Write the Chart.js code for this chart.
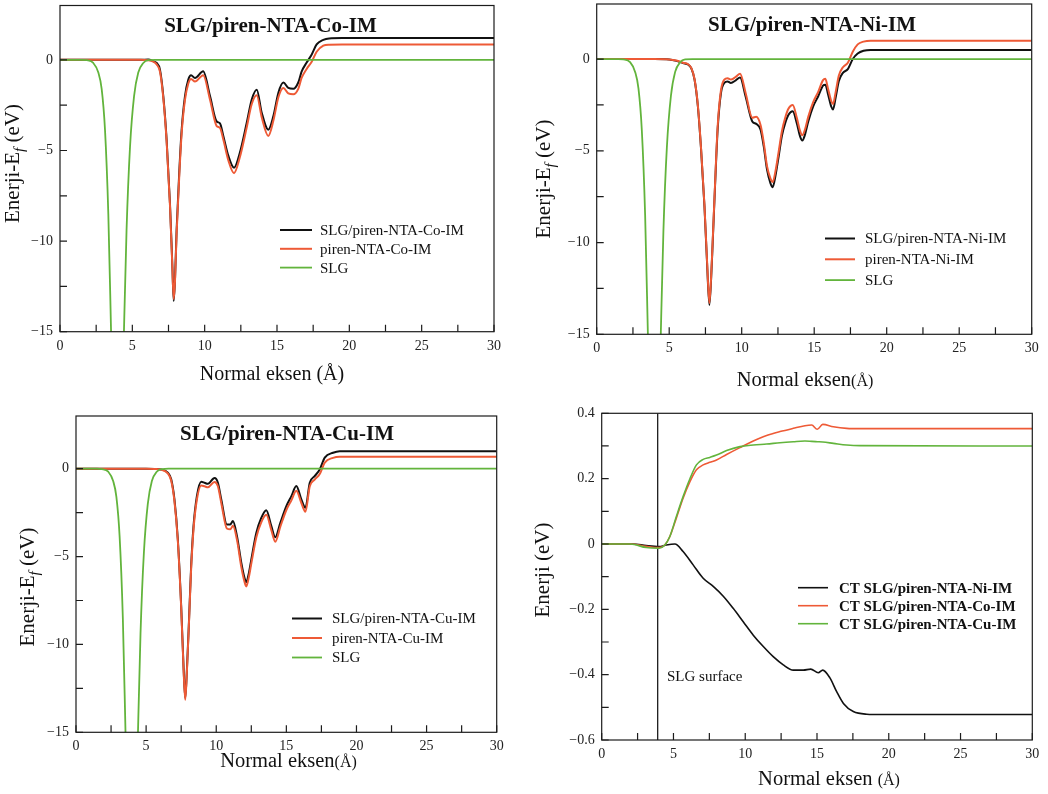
<!DOCTYPE html>
<html>
<head>
<meta charset="utf-8">
<script src="https://cdn.jsdelivr.net/npm/chart.js@4.4.1/dist/chart.umd.min.js"></script>
<style>
  html, body { margin: 0; padding: 0; background: #fff; width: 1048px; height: 794px; overflow: hidden; }
  canvas { position: absolute; left: 0; top: 0; }
</style>
</head>
<body>
<canvas id="panelCo" width="1048" height="794"></canvas>
<canvas id="panelNi" width="1048" height="794"></canvas>
<canvas id="panelCu" width="1048" height="794"></canvas>
<canvas id="panelCT" width="1048" height="794"></canvas>
<script>
// ---- Planar-averaged potential of bare graphene (SLG), shared by the three potential panels
const slgX = [0, 1.5, 1.84, 2.3, 2.65, 2.88, 3.11, 3.34, 3.53, 3.7, 3.85, 3.97, 4.1, 4.25, 4.42, 4.6, 4.84, 5.12, 5.41, 5.76, 6.1, 6.6, 30];
const slgV = [0, 0, -0.02, -0.17, -0.7, -1.6, -3.85, -8.5, -15, -21, -25, -26, -25, -21, -15, -9.4, -4.8, -2.0, -0.7, -0.17, -0.02, 0, 0];

// ---- Co complex
const coX = [0, 2, 4, 5, 5.6, 6.1, 6.45, 6.68, 6.91, 7.14, 7.37, 7.6, 7.76, 7.86, 7.95, 8.06, 8.25, 8.41, 8.64, 8.87, 9.06, 9.33, 9.9, 10.37, 10.83, 11.06, 11.29, 11.64, 12.03, 12.44, 12.9, 13.25, 13.6, 13.94, 14.4, 14.75, 15.1, 15.44, 15.78, 16.13, 16.47, 16.7, 17.05, 17.4, 17.74, 18.2, 18.6, 19.5, 30];
const coHybrid = [0, 0, 0, 0, 0, 0.02, -0.08, -0.17, -0.54, -2.0, -4.4, -7.9, -11.2, -13.3, -12.1, -9.4, -6.1, -3.85, -2.0, -1.09, -0.85, -1.0, -0.63, -2.0, -3.4, -3.5, -4.2, -5.3, -5.95, -5.1, -3.5, -2.2, -1.65, -2.9, -3.85, -3.1, -1.8, -1.25, -1.55, -1.6, -1.25, -0.65, -0.15, 0.3, 0.85, 1.1, 1.18, 1.2, 1.2];
const coPiren = [0, 0, 0, 0, 0, -0.02, -0.1, -0.25, -0.65, -2.1, -4.5, -8.0, -11.3, -13.2, -12.2, -9.6, -6.3, -4.05, -2.2, -1.3, -1.05, -1.2, -0.85, -2.2, -3.65, -3.75, -4.4, -5.55, -6.25, -5.35, -3.75, -2.45, -1.95, -3.15, -4.2, -3.35, -2.05, -1.55, -1.85, -1.9, -1.6, -1.0, -0.5, -0.1, 0.45, 0.78, 0.84, 0.85, 0.85];

// ---- Ni complex
const niX = [0, 2, 4, 5, 5.5, 5.95, 6.3, 6.52, 6.75, 6.98, 7.2, 7.43, 7.61, 7.77, 7.89, 8.0, 8.16, 8.34, 8.57, 8.8, 9.02, 9.25, 9.59, 9.89, 10.27, 10.73, 11.0, 11.3, 11.52, 11.75, 11.98, 12.14, 12.32, 12.55, 12.77, 13.0, 13.23, 13.52, 13.8, 14.02, 14.18, 14.36, 14.59, 14.93, 15.27, 15.61, 15.77, 15.95, 16.18, 16.3, 16.48, 16.7, 16.98, 17.32, 17.66, 18.0, 18.4, 18.9, 30];
const niHybrid = [0, 0, 0, -0.02, -0.1, -0.22, -0.3, -0.5, -1.13, -2.6, -4.95, -8.0, -11.1, -13.4, -12.0, -10.0, -6.95, -3.85, -1.85, -1.3, -1.22, -1.3, -1.16, -1.0, -2.04, -3.4, -3.53, -3.85, -4.76, -6.04, -6.76, -6.98, -6.4, -5.3, -4.2, -3.5, -3.04, -2.85, -3.5, -4.2, -4.44, -4.13, -3.4, -2.58, -2.04, -1.45, -1.4, -1.9, -2.6, -2.75, -2.1, -1.2, -0.75, -0.55, 0.0, 0.3, 0.45, 0.5, 0.5];
const niPiren = [0, 0, 0, -0.02, -0.08, -0.2, -0.28, -0.48, -1.1, -2.55, -4.9, -7.95, -11.0, -13.3, -11.9, -9.9, -6.85, -3.7, -1.7, -1.12, -1.05, -1.12, -0.97, -0.8, -1.85, -3.2, -3.15, -3.6, -4.55, -5.85, -6.5, -6.7, -6.15, -5.05, -3.95, -3.2, -2.7, -2.5, -3.2, -3.9, -4.15, -3.85, -3.15, -2.35, -1.8, -1.15, -1.08, -1.6, -2.3, -2.45, -1.8, -0.9, -0.45, -0.2, 0.4, 0.8, 0.95, 1.0, 1.0];

// ---- Cu complex
const cuX = [0, 2, 4, 5, 5.6, 6.07, 6.55, 6.79, 7.02, 7.26, 7.5, 7.67, 7.79, 7.9, 8.05, 8.21, 8.38, 8.62, 8.93, 9.17, 9.4, 9.88, 10.12, 10.36, 10.76, 11.0, 11.19, 11.48, 11.79, 12.02, 12.14, 12.33, 12.5, 12.86, 13.21, 13.57, 13.93, 14.21, 14.57, 15.0, 15.36, 15.71, 16.07, 16.36, 16.67, 17.02, 17.38, 17.74, 18.33, 18.8, 30];
const cuHybrid = [0, 0, 0, 0, -0.01, -0.04, -0.23, -0.6, -1.75, -4.0, -7.8, -11.3, -13.05, -11.6, -8.8, -5.55, -3.27, -1.56, -0.74, -0.8, -0.86, -0.53, -0.8, -1.75, -3.17, -3.17, -2.98, -3.84, -5.36, -6.22, -6.46, -5.93, -5.17, -3.65, -2.8, -2.36, -3.27, -3.9, -3.08, -2.13, -1.56, -0.99, -1.75, -2.22, -0.8, -0.42, -0.04, 0.63, 0.91, 1.0, 1.0];
const cuPiren = [0, 0, 0, 0, -0.01, -0.05, -0.27, -0.68, -1.85, -4.1, -7.9, -11.4, -13.15, -11.7, -8.9, -5.7, -3.45, -1.75, -0.95, -1.0, -1.06, -0.75, -1.0, -1.95, -3.4, -3.45, -3.25, -4.05, -5.6, -6.45, -6.7, -6.15, -5.4, -3.9, -3.05, -2.62, -3.5, -4.15, -3.3, -2.35, -1.8, -1.25, -1.95, -2.45, -1.0, -0.62, -0.3, 0.35, 0.62, 0.68, 0.68];

// ---- Charge transfer curves
const ctNiX = [0, 2.2, 3.1, 4.0, 4.5, 5.1, 5.67, 6.37, 7.07, 7.77, 8.47, 9.16, 9.86, 10.56, 11.26, 11.95, 12.65, 13.35, 14.05, 14.56, 15.09, 15.4, 15.9, 16.37, 16.84, 17.53, 18.47, 19.5, 30];
const ctNi = [0, 0, -0.005, -0.008, -0.003, 0, -0.023, -0.064, -0.105, -0.13, -0.16, -0.197, -0.238, -0.279, -0.314, -0.345, -0.37, -0.386, -0.386, -0.383, -0.394, -0.386, -0.41, -0.452, -0.488, -0.513, -0.521, -0.522, -0.522];
const ctX = [0, 2, 3.1, 4.0, 4.4, 4.74, 5.2, 5.67, 6.14, 6.6, 7.07, 7.53, 8.0, 8.7, 9.63, 10.56, 11.49, 12.42, 13.35, 14.16, 14.63, 15.02, 15.4, 16.14, 17.07, 18, 30];
const ctCo = [0, 0, -0.007, -0.011, -0.003, 0.022, 0.079, 0.14, 0.19, 0.227, 0.242, 0.25, 0.257, 0.274, 0.295, 0.315, 0.332, 0.344, 0.354, 0.362, 0.364, 0.351, 0.366, 0.359, 0.354, 0.353, 0.353];
const ctCu = [0, 0, -0.011, -0.013, -0.003, 0.022, 0.084, 0.145, 0.199, 0.242, 0.259, 0.265, 0.272, 0.286, 0.298, 0.303, 0.306, 0.31, 0.313, 0.315, 0.314, 0.313, 0.312, 0.308, 0.303, 0.301, 0.3];
const slgSurfaceX = 3.9;

const SERIF = '"Liberation Serif", "Times New Roman", serif';
const BLACK = '#111111', ORANGE = '#ee5a36', GREEN = '#62b43c';

const pts = (xs, ys) => xs.map((x, i) => ({ x: x, y: ys[i] }));
const onStep = (v, step) => Math.abs(v / step - Math.round(v / step)) < 1e-6;
const minus = v => (v < 0 ? '\u2212' : '') + Math.abs(v);

// Draw a run of text pieces (with sizes / italics / baseline shifts) centred on (cx, baseline)
function drawParts(ctx, parts, cx, base, rotated) {
  ctx.save();
  ctx.translate(cx, base);
  if (rotated) ctx.rotate(-Math.PI / 2);
  ctx.textAlign = 'left';
  ctx.textBaseline = 'alphabetic';
  ctx.fillStyle = '#111';
  let total = 0;
  const fonts = parts.map(p => (p.italic ? 'italic ' : '') + (p.bold ? 'bold ' : '') + p.size + 'px ' + SERIF);
  parts.forEach((p, i) => { ctx.font = fonts[i]; total += ctx.measureText(p.text).width; });
  let x = -total / 2;
  parts.forEach((p, i) => {
    ctx.font = fonts[i];
    ctx.fillText(p.text, x, p.dy || 0);
    x += ctx.measureText(p.text).width;
  });
  ctx.restore();
}

// Frame, inward ticks, inner title, legend and axis titles
const decor = {
  id: 'decor',
  afterDraw(chart, args, o) {
    const ctx = chart.ctx, a = chart.chartArea, xs = chart.scales.x, ys = chart.scales.y;
    ctx.save();
    ctx.strokeStyle = '#1c1c1c';
    ctx.lineWidth = 1.2;
    ctx.strokeRect(a.left, a.top, a.right - a.left, a.bottom - a.top);
    ctx.beginPath();
    xs.ticks.forEach(t => {
      if (!onStep(t.value, o.xStep)) return;
      const p = xs.getPixelForValue(t.value);
      ctx.moveTo(p, a.bottom); ctx.lineTo(p, a.bottom - 7);
    });
    ys.ticks.forEach(t => {
      if (!onStep(t.value, o.yStep)) return;
      const p = ys.getPixelForValue(t.value);
      ctx.moveTo(a.left, p); ctx.lineTo(a.left + 7, p);
    });
    ctx.stroke();

    if (o.title) drawParts(ctx, [{ text: o.title.text, size: 21, bold: true }], o.title.x, o.title.y, false);

    const lg = o.legend;
    let row = 0;
    chart.data.datasets.forEach(ds => {
      if (ds.noLegend) return;
      const y = lg.y + row * lg.gap;
      ctx.strokeStyle = ds.borderColor;
      ctx.lineWidth = ds.borderWidth;
      ctx.beginPath(); ctx.moveTo(lg.x0, y); ctx.lineTo(lg.x1, y); ctx.stroke();
      ctx.font = (lg.bold ? 'bold ' : '') + lg.size + 'px ' + SERIF;
      ctx.fillStyle = '#111';
      ctx.textAlign = 'left';
      ctx.textBaseline = 'middle';
      ctx.fillText(ds.label, lg.tx, y + 1);
      row++;
    });

    if (o.note) {
      ctx.font = '15px ' + SERIF;
      ctx.fillStyle = '#111';
      ctx.textAlign = 'left';
      ctx.textBaseline = 'middle';
      ctx.fillText(o.note.text, o.note.x, o.note.y);
    }

    drawParts(ctx, o.xTitle.parts, o.xTitle.x, o.xTitle.y, false);
    drawParts(ctx, o.yTitle.parts, o.yTitle.x, o.yTitle.y, true);
    ctx.restore();
  }
};

function makePanel(id, box, yRange, datasets, deco) {
  const yStep = yRange.step;
  new Chart(document.getElementById(id), {
    type: 'line',
    data: { datasets: datasets },
    options: {
      responsive: false,
      animation: false,
      events: [],
      layout: { padding: { left: box.L - 50, top: box.T, right: 1048 - box.R, bottom: 794 - box.B - 30 } },
      elements: { point: { radius: 0 }, line: { cubicInterpolationMode: 'monotone' } },
      scales: {
        x: {
          type: 'linear', min: 0, max: 30,
          grid: { display: false, drawTicks: false }, border: { display: false },
          afterFit: s => { s.height = 30; s.paddingLeft = 0; s.paddingRight = 0; },
          ticks: {
            stepSize: 2.5, autoSkip: false, maxRotation: 0, padding: 6,
            color: '#222', font: { family: SERIF, size: 14 },
            callback: v => onStep(v, 5) ? String(v) : ''
          }
        },
        y: {
          type: 'linear', min: yRange.min, max: yRange.max,
          grid: { display: false, drawTicks: false }, border: { display: false },
          afterFit: s => { s.width = 50; s.paddingTop = 0; s.paddingBottom = 0; },
          ticks: {
            stepSize: yStep, autoSkip: false, padding: 7,
            color: '#222', font: { family: SERIF, size: 14 },
            callback: yRange.label
          }
        }
      },
      plugins: {
        legend: { display: false },
        tooltip: { enabled: false },
        decor: Object.assign({ xStep: 2.5, yStep: yStep }, deco)
      }
    },
    plugins: [decor]
  });
}

const potentialRange = {
  min: -15, max: 3, step: 2.5,
  label: v => onStep(v, 5) ? minus(v) : ''
};

function potentialSets(xs, hybrid, piren, metal) {
  return [
    { label: 'SLG/piren-NTA-' + metal + '-IM', data: pts(xs, hybrid), borderColor: BLACK, borderWidth: 2, order: 3 },
    { label: 'piren-NTA-' + metal + '-IM', data: pts(xs, piren), borderColor: ORANGE, borderWidth: 2, order: 2 },
    { label: 'SLG', data: pts(slgX, slgV), borderColor: GREEN, borderWidth: 1.8, order: 1 }
  ];
}

const yTitleEf = [{ text: 'Enerji-E', size: 21 }, { text: 'f', size: 15, italic: true, dy: 5 }, { text: ' (eV)', size: 21 }];

makePanel('panelCo', { L: 60, T: 5.5, R: 494, B: 331.7 }, potentialRange,
  potentialSets(coX, coHybrid, coPiren, 'Co'), {
    title: { text: 'SLG/piren-NTA-Co-IM', x: 270.5, y: 31.5 },
    legend: { x0: 280, x1: 312, tx: 320, y: 230, gap: 18.8, size: 15 },
    xTitle: { x: 272, y: 380, parts: [{ text: 'Normal eksen (\u00C5)', size: 20 }] },
    yTitle: { x: 19, y: 163.5, parts: yTitleEf }
  });

makePanel('panelNi', { L: 596.7, T: 4, R: 1031.7, B: 334.3 }, potentialRange,
  potentialSets(niX, niHybrid, niPiren, 'Ni'), {
    title: { text: 'SLG/piren-NTA-Ni-IM', x: 812, y: 30.5 },
    legend: { x0: 825, x1: 855, tx: 865, y: 238.5, gap: 20.8, size: 15 },
    xTitle: { x: 805, y: 386, parts: [{ text: 'Normal eksen', size: 20.5 }, { text: '(\u00C5)', size: 16 }] },
    yTitle: { x: 549.5, y: 179, parts: yTitleEf }
  });

makePanel('panelCu', { L: 76, T: 416, R: 496.7, B: 732.3 }, potentialRange,
  potentialSets(cuX, cuHybrid, cuPiren, 'Cu'), {
    title: { text: 'SLG/piren-NTA-Cu-IM', x: 287, y: 440 },
    legend: { x0: 292, x1: 322, tx: 332, y: 618.5, gap: 19.5, size: 15 },
    xTitle: { x: 288.5, y: 767, parts: [{ text: 'Normal eksen', size: 20.5 }, { text: '(\u00C5)', size: 16 }] },
    yTitle: { x: 33.5, y: 587, parts: yTitleEf }
  });

makePanel('panelCT', { L: 601.7, T: 413.3, R: 1032.3, B: 740 }, {
    min: -0.6, max: 0.4, step: 0.1,
    label: v => { const n = Math.round(v * 10); return n % 2 === 0 ? minus(n / 10) : ''; }
  }, [
    { label: 'CT SLG/piren-NTA-Ni-IM', data: pts(ctNiX, ctNi), borderColor: BLACK, borderWidth: 1.6, order: 3 },
    { label: 'CT SLG/piren-NTA-Co-IM', data: pts(ctX, ctCo), borderColor: ORANGE, borderWidth: 1.6, order: 2 },
    { label: 'CT SLG/piren-NTA-Cu-IM', data: pts(ctX, ctCu), borderColor: GREEN, borderWidth: 1.6, order: 1 },
    { label: 'SLG surface', noLegend: true, data: [{ x: slgSurfaceX, y: -0.6 }, { x: slgSurfaceX, y: 0.4 }], borderColor: '#1c1c1c', borderWidth: 1.3, order: 4 }
  ], {
    legend: { x0: 798, x1: 828, tx: 839, y: 587.7, gap: 18, size: 15, bold: true },
    note: { text: 'SLG surface', x: 667, y: 677 },
    xTitle: { x: 829, y: 785, parts: [{ text: 'Normal eksen ', size: 20.5 }, { text: '(\u00C5)', size: 16 }] },
    yTitle: { x: 549, y: 570, parts: [{ text: 'Enerji (eV)', size: 21 }] }
  });
</script>
</body>
</html>
